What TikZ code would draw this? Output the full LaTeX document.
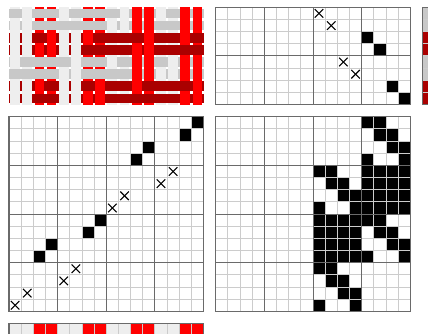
\documentclass[tikz,border=0pt]{standalone}
\usepackage{tikz}
\usetikzlibrary{calc}

\definecolor{warplight}{HTML}{EEEEEE}
\definecolor{warpred}{HTML}{FF0000}
\definecolor{weftgray}{HTML}{C8C8C8}
\definecolor{weftred}{HTML}{AA0000}
\definecolor{minorline}{HTML}{CCCCCC}
\definecolor{majorline}{HTML}{6A6A6A}

\tikzset{
	minor/.style={draw=minorline, line width=0.9pt},
	major/.style={draw=majorline, line width=1pt},
	frame/.style={draw=majorline, line width=1.4pt},
	cross/.style={draw=black, line width=1.1pt},
}

% grid of #3 x #4 cells, lower left corner (#1,#2), heavy line every 4 cells
\newcommand{\draftgrid}[4]{
	\foreach \i in {1,...,\numexpr#3-1\relax}
		\draw[minor] (#1+\i,#2) -- (#1+\i,#2+#4);
	\foreach \j in {1,...,\numexpr#4-1\relax}
		\draw[minor] (#1,#2+\j) -- (#1+#3,#2+\j);
	\foreach \i in {4,8,...,\numexpr#3-1\relax}
		\draw[major] (#1+\i,#2) -- (#1+\i,#2+#4);
	\foreach \j in {4,8,...,\numexpr#4-1\relax}
		\draw[major] (#1,#2+\j) -- (#1+#3,#2+\j);
	\draw[frame] (#1,#2) rectangle (#1+#3,#2+#4);
}
% black cell / cross in a cell; (#1,#2) is the upper left corner, row #3 from the top, column #4
\newcommand{\blk}[4]{\fill[black] (#1+#4,#2-#3-1) rectangle ++(1,1);}
\newcommand{\crs}[4]{
	\draw[cross] (#1+#4+0.15,#2-#3-0.85) -- ++(0.7,0.7);
	\draw[cross] (#1+#4+0.15,#2-#3-0.15) -- ++(0.7,-0.7);
}

\begin{document}
\begin{tikzpicture}[x=12.16pt, y=12.16pt]
	\useasboundingbox (-0.74,-1.785) rectangle (34.457,25.6);

	% cloth: warp ends, then picks, then warp risers
	\foreach \c/\col in {0/warplight,1/warplight,2/warpred,3/warpred,4/warplight,5/warplight,6/warpred,7/warpred,
		8/warplight,9/warplight,10/warpred,11/warpred,12/warplight,13/warplight,14/warpred,15/warpred}
		\fill[\col] (\c+0.1,17) rectangle (\c+0.9,25);
	\foreach \r/\col in {0/weftgray,1/weftgray,2/weftred,3/weftred,4/weftgray,5/weftgray,6/weftred,7/weftred}
		\fill[\col] (0,24.1-\r) rectangle (16,24.9-\r);
	\foreach \r/\ups in {0/{1,4,9,10,11,12,14,15}, 1/{0,1,8,9,10,11,14,15}, 2/{0,1,3,4,5,6,11,14},
		3/{0,1,2,3,4,5,10,11}, 4/{0,5,8,10,11,13,14,15}, 5/{4,5,10,11,12,13,14,15},
		6/{0,1,2,4,5,7,10,15}, 7/{0,1,4,5,6,7,14,15}}
		\foreach \c in \ups {
			\pgfmathtruncatemacro{\m}{mod(\c,4)}
			\ifnum\m<2 \fill[warplight] (\c+0.1,24-\r) rectangle ++(0.8,1);
			\else \fill[warpred] (\c+0.1,24-\r) rectangle ++(0.8,1); \fi
		}

	% threading
	\foreach \r/\c in {2/12,3/13,6/14,7/15} \blk{17}{25}{\r}{\c};
	\draftgrid{17}{17}{16}{8}
	\foreach \r/\c in {0/8,1/9,4/10,5/11} \crs{17}{25}{\r}{\c};

	% weft colours
	\foreach \r/\col in {0/weftgray,1/weftgray,2/weftred,3/weftred,4/weftgray,5/weftgray,6/weftred,7/weftred}
		\fill[\col] (34,24-\r) rectangle ++(1,1);
	\foreach \j in {18,...,24} \draw[minor] (34,\j) -- (35,\j);
	\draw[frame] (34,17) rectangle (35,25);

	% tie-up
	\foreach \r/\c in {0/15,1/14,2/11,3/10,8/7,9/6,10/3,11/2} \blk{0}{16}{\r}{\c};
	\draftgrid{0}{0}{16}{16}
	\foreach \r/\c in {4/13,5/12,6/9,7/8,12/5,13/4,14/1,15/0} \crs{0}{16}{\r}{\c};

	% drawdown
	\foreach \r/\cs in {0/{12,13}, 1/{13,14}, 2/{14,15}, 3/{12,15},
		4/{8,9,12,13,14,15}, 5/{9,10,12,13,14,15}, 6/{10,11,12,13,14,15}, 7/{8,11,12,13,14,15},
		8/{8,9,10,11,12,13}, 9/{8,9,10,11,13,14}, 10/{8,9,10,11,14,15}, 11/{8,9,10,11,12,15},
		12/{8,9}, 13/{9,10}, 14/{10,11}, 15/{8,11}}
		\foreach \c in \cs \blk{17}{16}{\r}{\c};
	\draftgrid{17}{0}{16}{16}

	% warp colours
	\foreach \c/\col in {0/warplight,1/warplight,2/warpred,3/warpred,4/warplight,5/warplight,6/warpred,7/warpred,
		8/warplight,9/warplight,10/warpred,11/warpred,12/warplight,13/warplight,14/warpred,15/warpred}
		\fill[\col] (\c,-2) rectangle ++(1,1);
	\foreach \i in {1,...,15} \draw[minor] (\i,-2) -- (\i,-1);
	\draw[frame] (0,-2) rectangle (16,-1);
\end{tikzpicture}
\end{document}
